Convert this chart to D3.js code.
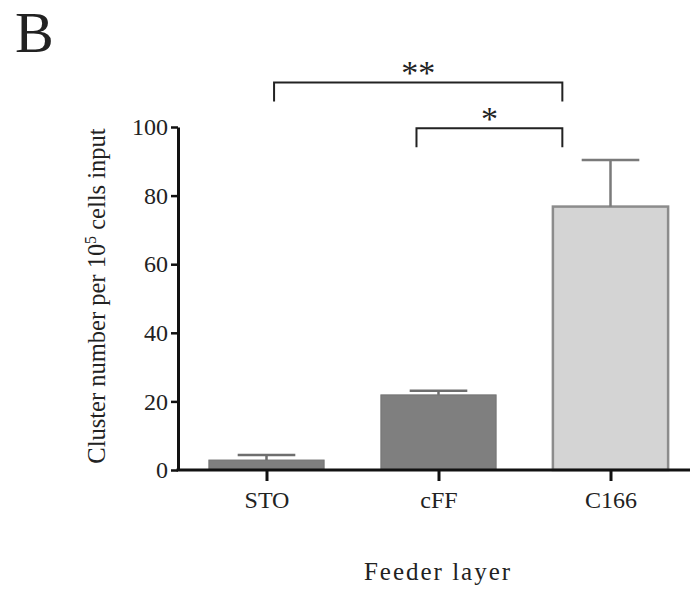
<!DOCTYPE html>
<html>
<head>
<meta charset="utf-8">
<script src="https://cdn.jsdelivr.net/npm/d3@7"></script>
<style>
  body { margin: 0; background: #fff; }
  text { font-family: "Liberation Serif", "DejaVu Serif", serif; fill: #222; }
</style>
</head>
<body>
<div id="chart"></div>
<script>
// data
const categories = ["STO", "cFF", "C166"];
const means = [2.9, 21.9, 76.8];
const errors = [1.5, 1.2, 13.6];
const barColors = ["#7f7f7f", "#7f7f7f", "#d4d4d4"];
const yTicks = [0, 20, 40, 60, 80, 100];
// significance brackets: endpoints given as category + offset (fraction of a step)
const brackets = [
    { from: "STO", fromOff: 0.044, to: "C166", toOff: -0.28, level: 113, label: "**" },
    { from: "cFF", fromOff: -0.128, to: "C166", toOff: -0.28, level: 99.6, label: "*" }
];

const svgWidth = 690, svgHeight = 592;
const axisX = 178, axisY = 470, topY = 127;

const svg = d3.select("#chart").append("svg")
    .attr("width", svgWidth)
    .attr("height", svgHeight);

const y = d3.scaleLinear().domain([0, 100]).range([axisY, topY]);
const x = d3.scalePoint().domain(categories).range([180.5, 696.5]).padding(0.5);
const barW = x.step() * 0.67;

// bars
svg.selectAll("rect.bar")
    .data(categories)
    .enter().append("rect")
    .attr("class", "bar")
    .attr("x", d => x(d) - barW / 2)
    .attr("y", (d, i) => y(means[i]))
    .attr("width", barW)
    .attr("height", (d, i) => y(0) - y(means[i]))
    .attr("fill", (d, i) => barColors[i])
    .attr("stroke", (d, i) => i == 2 ? "#8c8c8c" : "#747474")
    .attr("stroke-width", (d, i) => i == 2 ? 2.5 : 1);

// error bars (upper only)
const eb = svg.selectAll("g.err")
    .data(categories)
    .enter().append("g")
    .attr("class", "err")
    .attr("stroke", (d, i) => i == 2 ? "#7a7a7a" : "#6e6e6e")
    .attr("stroke-width", 2.5);
eb.append("line")
    .attr("x1", d => x(d)).attr("x2", d => x(d))
    .attr("y1", (d, i) => y(means[i]))
    .attr("y2", (d, i) => y(means[i] + errors[i]));
eb.append("line")
    .attr("x1", d => x(d) - barW / 4).attr("x2", d => x(d) + barW / 4)
    .attr("y1", (d, i) => y(means[i] + errors[i]))
    .attr("y2", (d, i) => y(means[i] + errors[i]));

// y axis
const yAxis = svg.append("g")
    .attr("transform", `translate(${axisX},0)`)
    .call(d3.axisLeft(y).tickValues(yTicks).tickSize(7).tickPadding(3).tickSizeOuter(0));
yAxis.select(".domain").attr("stroke", "#111").attr("stroke-width", 3);
yAxis.selectAll(".tick line").attr("stroke", "#111").attr("stroke-width", 2.5);
yAxis.selectAll(".tick text")
    .style("font-family", "Liberation Serif, serif")
    .style("font-size", "24px")
    .attr("fill", "#333");

// x axis
svg.append("line")
    .attr("x1", axisX - 1.5).attr("x2", svgWidth)
    .attr("y1", axisY).attr("y2", axisY)
    .attr("stroke", "#111").attr("stroke-width", 3);
const xAxis = svg.append("g")
    .attr("transform", `translate(0,${axisY})`)
    .call(d3.axisBottom(x).tickSize(11).tickPadding(10).tickSizeOuter(0));
xAxis.select(".domain").remove();
xAxis.selectAll(".tick line").attr("stroke", "#111").attr("stroke-width", 3);
xAxis.selectAll(".tick text")
    .style("font-family", "Liberation Serif, serif")
    .style("font-size", "24px")
    .attr("fill", "#333");

// axis titles
svg.append("text")
    .attr("x", 438).attr("y", 580)
    .attr("text-anchor", "middle")
    .style("font-size", "25px")
    .style("letter-spacing", "2px")
    .text("Feeder layer");

const yt = svg.append("text")
    .attr("transform", `translate(105,${(axisY + 122) / 2}) rotate(-90)`)
    .attr("text-anchor", "middle")
    .style("font-size", "24.5px");
yt.append("tspan").text("Cluster number per 10");
yt.append("tspan").attr("dy", -9).style("font-size", "16px").text("5");
yt.append("tspan").attr("dy", 9).text(" cells input");

// panel letter
svg.append("text")
    .attr("x", 15).attr("y", 52)
    .style("font-size", "58px")
    .attr("fill", "#111")
    .text("B");

// significance brackets
const bx = (cat, off) => x(cat) + off * x.step();
brackets.forEach(b => {
    const x1 = bx(b.from, b.fromOff), x2 = bx(b.to, b.toOff), yy = y(b.level);
    svg.append("path")
        .attr("d", `M${x1},${yy + 19}V${yy}H${x2}V${yy + 19}`)
        .attr("fill", "none")
        .attr("stroke", "#222")
        .attr("stroke-width", 2);
    svg.append("text")
        .attr("x", (x1 + x2) / 2).attr("y", yy + 2)
        .attr("text-anchor", "middle")
        .style("font-size", "34px")
        .attr("fill", "#222")
        .text(b.label);
});
</script>
</body>
</html>
